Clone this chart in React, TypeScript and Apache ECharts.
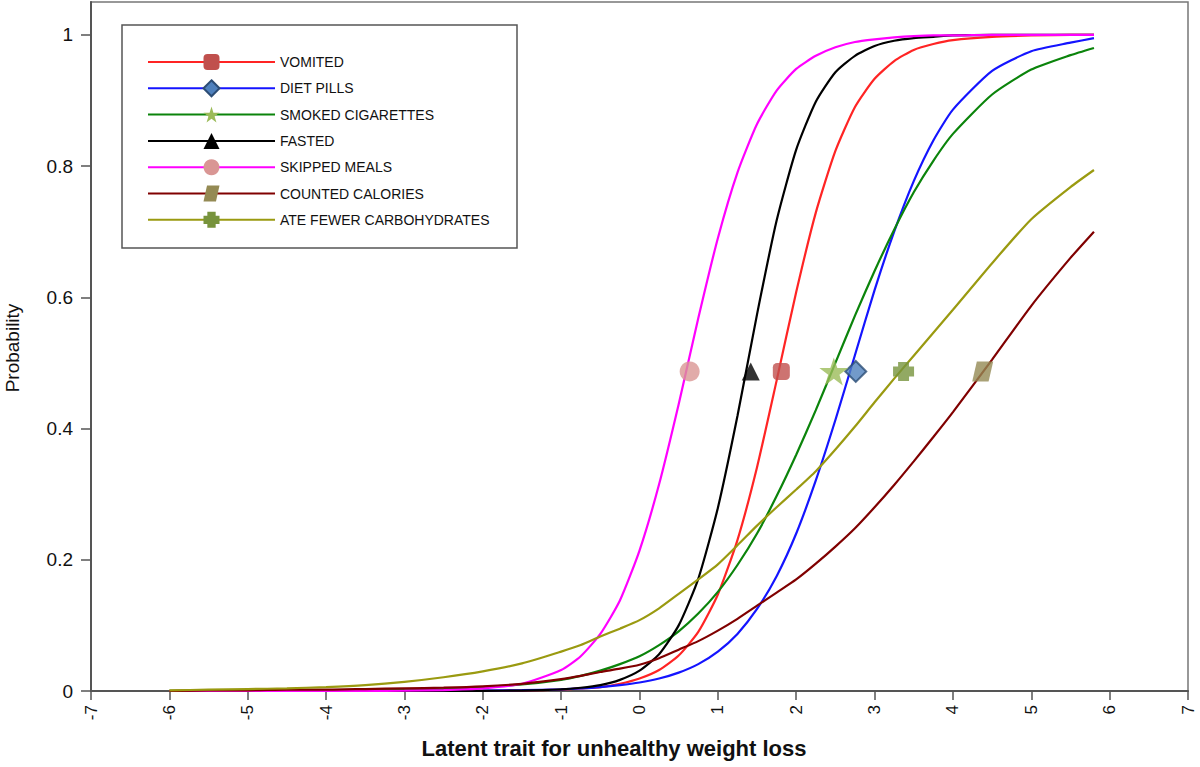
import React, { useEffect, useRef } from "react";
import * as echarts from "echarts";

// Latent trait grid (x) shared by all curves
const xs = [-6, -5.5, -5, -4.5, -4, -3.5, -3, -2.5, -2, -1.5, -1, -0.75, -0.5, -0.25, 0, 0.25, 0.5, 0.75, 1, 1.25, 1.5, 1.75, 2, 2.25, 2.5, 2.75, 3, 3.25, 3.5, 3.75, 4, 4.5, 5, 5.5, 5.8];

const seriesNames = ["VOMITED", "DIET PILLS", "SMOKED CIGARETTES", "FASTED", "SKIPPED MEALS", "COUNTED CALORIES", "ATE FEWER CARBOHYDRATES"];

const vomited = [0, 0, 0, 0, 0, 0, 0, 0.0001, 0.0002, 0.0007, 0.002, 0.004, 0.006, 0.011, 0.019, 0.032, 0.054, 0.09, 0.147, 0.23, 0.341, 0.473, 0.608, 0.729, 0.823, 0.89, 0.933, 0.96, 0.977, 0.986, 0.992, 0.997, 0.999, 1, 1];
const dietPills = [0, 0, 0, 0, 0, 0, 0.0001, 0.0002, 0.0005, 0.0012, 0.0026, 0.004, 0.006, 0.009, 0.013, 0.019, 0.028, 0.041, 0.06, 0.087, 0.125, 0.175, 0.24, 0.321, 0.413, 0.512, 0.611, 0.7, 0.777, 0.839, 0.886, 0.945, 0.975, 0.988, 0.995];
const smokedCigarettes = [0.0001, 0.0001, 0.0002, 0.0003, 0.0006, 0.001, 0.0018, 0.003, 0.006, 0.01, 0.017, 0.023, 0.031, 0.041, 0.053, 0.07, 0.091, 0.118, 0.151, 0.192, 0.24, 0.297, 0.36, 0.428, 0.5, 0.572, 0.64, 0.703, 0.76, 0.808, 0.849, 0.909, 0.947, 0.969, 0.98];
const fasted = [0, 0, 0, 0, 0, 0, 0, 0.0001, 0.0002, 0.0007, 0.0026, 0.005, 0.009, 0.017, 0.031, 0.056, 0.1, 0.171, 0.279, 0.419, 0.574, 0.717, 0.825, 0.898, 0.943, 0.968, 0.983, 0.991, 0.995, 0.997, 0.999, 1, 1, 1, 1];
const skippedMeals = [0, 0, 0, 0, 0.0001, 0.0002, 0.0005, 0.0014, 0.004, 0.011, 0.032, 0.053, 0.087, 0.138, 0.214, 0.315, 0.437, 0.568, 0.69, 0.79, 0.864, 0.915, 0.948, 0.968, 0.981, 0.989, 0.993, 0.996, 0.998, 0.999, 0.999, 1, 1, 1, 1];
const countedCalories = [0, 0.001, 0.001, 0.002, 0.002, 0.003, 0.004, 0.005, 0.007, 0.011, 0.018, 0.023, 0.029, 0.034, 0.04, 0.05, 0.063, 0.076, 0.092, 0.11, 0.13, 0.15, 0.17, 0.194, 0.22, 0.248, 0.28, 0.314, 0.35, 0.387, 0.425, 0.505, 0.587, 0.66, 0.7];
const ateFewerCarbs = [0.001, 0.002, 0.003, 0.004, 0.006, 0.009, 0.014, 0.021, 0.03, 0.042, 0.06, 0.07, 0.083, 0.095, 0.108, 0.126, 0.148, 0.17, 0.193, 0.222, 0.252, 0.28, 0.307, 0.335, 0.368, 0.403, 0.44, 0.476, 0.511, 0.546, 0.581, 0.652, 0.719, 0.768, 0.794];

// Location markers (item difficulty) on each curve
const markerX = [1.81, 2.76, 2.48, 1.42, 0.64, 4.38, 3.37];
const markerY = [0.487, 0.487, 0.487, 0.487, 0.487, 0.487, 0.487];

const yTicks = [0, 0.2, 0.4, 0.6, 0.8, 1];

const lineColors = ["#ff2424", "#1414ff", "#0b840b", "#000000", "#ff00ff", "#800000", "#9a9a10"];
const markerColors = ["#c0504d", "#4f81bd", "#9bbb59", "#000000", "#d99694", "#948a54", "#77933c"];
const markerBorders = ["#c0504d", "#2c4d75", "#9bbb59", "#000000", "#d99694", "#948a54", "#77933c"];
const STAR = "path://M50,0 L61.8,35.1 L98.9,35.1 L68.9,56.9 L80.3,92.1 L50,70.4 L19.7,92.1 L31.1,56.9 L1.1,35.1 L38.2,35.1 Z";
const PLUS = "path://M24,0 H76 V24 H100 V76 H76 V100 H24 V76 H0 V24 H24 Z";
const PARA = "path://M22,0 H100 L78,100 H0 Z";
const markerSymbols = ["roundRect", "diamond", STAR, "triangle", "circle", PARA, PLUS];
const markerSizes: any[] = [[17, 17], [21, 21], [29, 28], [18, 18], [20, 20], [21, 20], [21, 19]];

const allY = [vomited, dietPills, smokedCigarettes, fasted, skippedMeals, countedCalories, ateFewerCarbs];

const FONT = "'Liberation Sans', Arial, sans-serif";

export default function App() {
  const ref = useRef<HTMLDivElement>(null);
  useEffect(() => {
    if (!ref.current) return;
    const chart = echarts.init(ref.current, null, { renderer: "svg" });

    const lineSeries = seriesNames.map((name, i) => ({
      name,
      type: "line",
      data: xs.map((x, j) => [x, allY[i][j]]),
      showSymbol: false,
      symbol: markerSymbols[i],
      symbolSize: 0,
      smooth: 0.2,
      lineStyle: { color: lineColors[i], width: 2.2 },
      itemStyle: { color: markerColors[i], borderColor: markerBorders[i], borderWidth: i === 1 ? 1.5 : 0 },
      z: 2,
    }));

    const markerSeries = {
      name: "markers",
      type: "scatter",
      z: 5,
      data: seriesNames.map((_, i) => ({
        value: [markerX[i], markerY[i]],
        symbol: markerSymbols[i],
        symbolSize: markerSizes[i],
        itemStyle: { color: markerColors[i], borderColor: markerBorders[i], borderWidth: i === 1 ? 2 : 0 },
      })),
    };

    chart.setOption({
      animation: false,
      backgroundColor: "#ffffff",
      grid: { left: 91, right: 12, top: 2, bottom: 76, show: true, borderColor: "#777", borderWidth: 1.5, containLabel: false },
      xAxis: {
        type: "value",
        min: -7,
        max: 7,
        interval: 1,
        splitLine: { show: false },
        axisLine: { onZero: false, lineStyle: { color: "#555", width: 2 } },
        axisTick: { length: 9, lineStyle: { color: "#555", width: 1.5 } },
        axisLabel: { rotate: 90, margin: 14, fontSize: 17, color: "#111", fontFamily: FONT },
      },
      yAxis: {
        type: "value",
        min: 0,
        max: 1.05,
        interval: 0.2,
        splitLine: { show: false },
        axisLine: { onZero: false, lineStyle: { color: "#555", width: 2 } },
        axisTick: { length: 10, customValues: yTicks, lineStyle: { color: "#555", width: 1.5 } },
        axisLabel: {
          margin: 18,
          fontSize: 19,
          color: "#111",
          fontFamily: FONT,
          customValues: yTicks,
          formatter: (v: number) => (yTicks.some((t) => Math.abs(t - v) < 1e-6) ? String(Math.round(v * 10) / 10) : ""),
        },
      },
      legend: {
        data: seriesNames,
        orient: "vertical",
        left: 147,
        top: 52,
        padding: 0,
        itemWidth: 127,
        itemHeight: 20,
        itemGap: 6.3,
        selectedMode: false,
        textStyle: { fontSize: 14, color: "#111", fontFamily: FONT, lineHeight: 20 },
      },
      graphic: [
        { type: "rect", z: 1, shape: { x: 122, y: 25, width: 395, height: 223 }, style: { fill: "#fff", stroke: "#555", lineWidth: 1.5 } },
        { type: "text", x: 3, y: 348, rotation: Math.PI / 2, style: { text: "Probability", fill: "#111", font: "19px " + FONT, textAlign: "center", textVerticalAlign: "top" } },
        { type: "text", x: 614, y: 748, style: { text: "Latent trait for unhealthy weight loss", fill: "#111", font: "bold 22px " + FONT, textAlign: "center", textVerticalAlign: "middle" } },
      ],
      series: [...lineSeries, markerSeries],
    });
    return () => chart.dispose();
  }, []);
  return <div ref={ref} style={{ position: "fixed", left: 0, top: 0, width: 1200, height: 767 }} />;
}
